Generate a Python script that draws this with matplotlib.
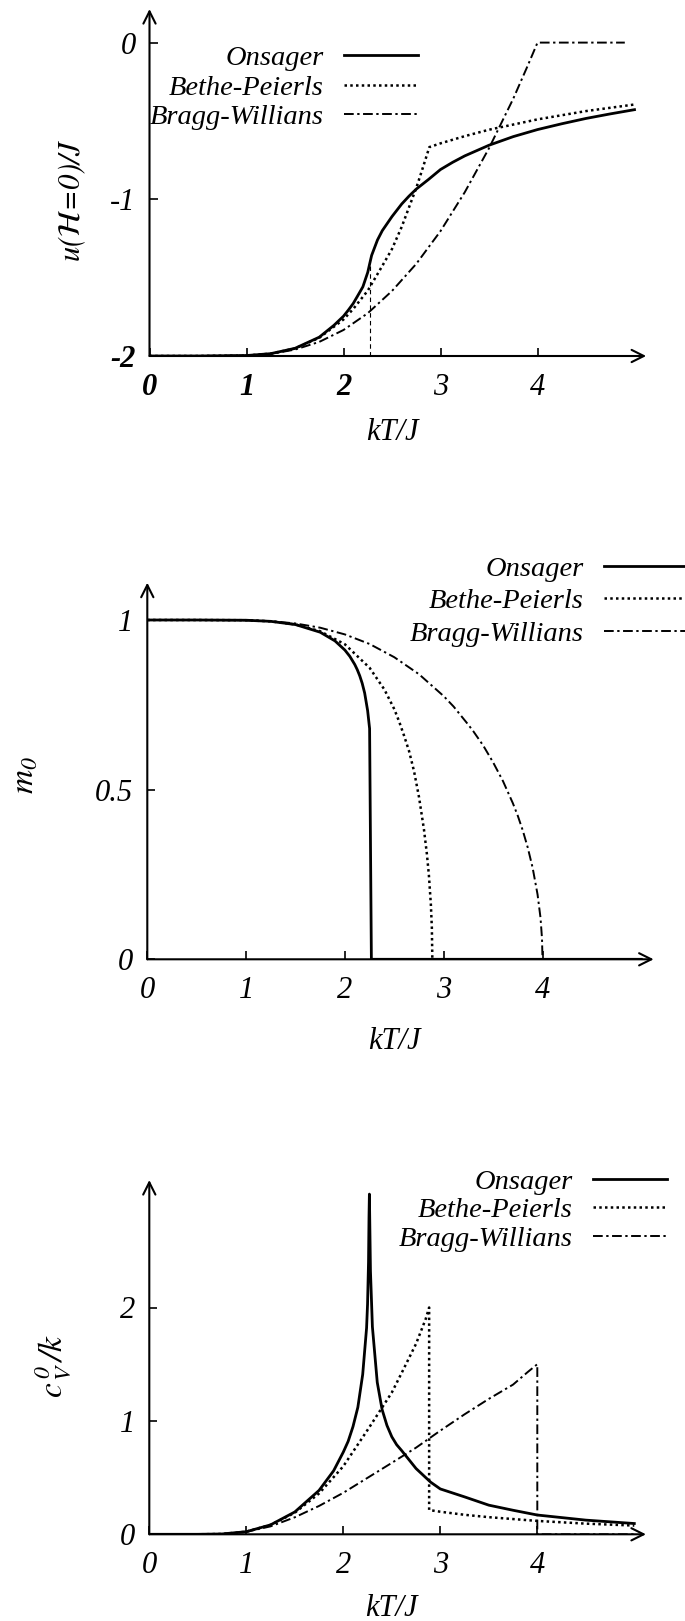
import numpy as np
import matplotlib
matplotlib.use('Agg')
import matplotlib.pyplot as plt
from matplotlib.lines import Line2D

plt.rcParams['font.family'] = ['Liberation Serif', 'DejaVu Serif']
plt.rcParams['font.style'] = 'italic'
plt.rcParams['mathtext.fontset'] = 'stix'

names = ['Onsager', 'Bethe-Peierls', 'Bragg-Willians']
xticks = [0, 1, 2, 3, 4]

# --- energia u(H=0)/J ---
T_u_ons = [0, 0.5, 1.0, 1.25, 1.5, 1.75, 1.9, 2.0, 2.05, 2.1, 2.15, 2.2, 2.25, 2.269, 2.29,
           2.35, 2.4, 2.5, 2.6, 2.675, 2.75, 2.875, 3.0, 3.125, 3.25, 3.5, 3.75, 4.0, 4.25,
           4.5, 4.75, 5.0]
u_ons = [-2, -2, -1.997, -1.985, -1.951, -1.880, -1.805, -1.746, -1.707, -1.665, -1.612,
         -1.558, -1.466, -1.414, -1.358, -1.26, -1.20, -1.11, -1.03, -0.98, -0.935, -0.874,
         -0.81, -0.764, -0.723, -0.655, -0.60, -0.555, -0.518, -0.484, -0.455, -0.428]
T_u_bp = [0, 0.5, 1.0, 1.25, 1.5, 1.75, 2.0, 2.1, 2.25, 2.4, 2.5, 2.6, 2.75, 2.8, 2.85,
          2.885, 3.0, 3.25, 3.5, 4.0, 4.5, 5.0]
u_bp = [-2, -2, -1.997, -1.985, -1.952, -1.884, -1.767, -1.70, -1.583, -1.425, -1.317,
        -1.176, -0.928, -0.833, -0.736, -0.667, -0.643, -0.597, -0.556, -0.490, -0.437,
        -0.395]
T_u_bw = [0, 0.5, 1.0, 1.25, 1.5, 1.75, 2.0, 2.25, 2.5, 2.75, 3.0, 3.25, 3.5, 3.75, 3.9,
          4.0, 4.9]
u_bw = [-2, -2, -1.997, -1.987, -1.959, -1.910, -1.834, -1.727, -1.585, -1.412, -1.203,
        -0.955, -0.674, -0.358, -0.146, 0, 0]
tc_ons = 2.269
u_tc_ons = -1.414

# --- magnetizacion m0 ---
T_m_ons = [0, 0.5, 1.0, 1.25, 1.5, 1.75, 1.9, 2.0, 2.05, 2.1, 2.125, 2.15, 2.175, 2.2,
           2.23, 2.25, 2.268, 5.0]
m_ons = [1, 1, 0.9993, 0.996, 0.9865, 0.964, 0.9383, 0.9113, 0.8928, 0.8688, 0.8537,
         0.8357, 0.8135, 0.7848, 0.733, 0.68, 0, 0]
T_m_bp = [0, 0.5, 1.0, 1.25, 1.5, 1.75, 2.0, 2.25, 2.4, 2.5, 2.55, 2.6, 2.65, 2.7, 2.75,
          2.8, 2.83, 2.85, 2.87, 2.88, 2.885]
m_bp = [1, 1, 0.9993, 0.996, 0.9869, 0.9668, 0.9284, 0.8591, 0.795, 0.7372, 0.70,
        0.6581, 0.613, 0.554, 0.4781, 0.383, 0.310, 0.2483, 0.162, 0.094, 0]
T_m_bw = [0, 0.5, 1.0, 1.25, 1.5, 1.75, 2.0, 2.25, 2.5, 2.75, 3.0, 3.1, 3.25, 3.3, 3.4,
          3.5, 3.6, 3.7, 3.75, 3.8, 3.85, 3.9, 3.95, 3.98, 3.995, 4.0]
m_bw = [1, 1, 0.9993, 0.9967, 0.9898, 0.9773, 0.9575, 0.9293, 0.8903, 0.8402, 0.7756,
        0.745, 0.691, 0.672, 0.63, 0.5805, 0.5252, 0.46, 0.4229, 0.38, 0.33, 0.27, 0.191,
        0.122, 0.061, 0]

# --- calor especifico c_V/k ---
T_c_ons = [0, 0.5, 0.75, 1.0, 1.25, 1.5, 1.75, 1.9, 2.0, 2.05, 2.1, 2.15, 2.2, 2.24, 2.25,
           2.26, 2.265, 2.269, 2.275, 2.28, 2.3, 2.35, 2.4, 2.45, 2.5, 2.55, 2.6, 2.75, 2.9,
           3.0, 3.25, 3.5, 3.75, 4.0, 4.5, 5.0]
c_ons = [0, 0, 0.003, 0.023, 0.083, 0.197, 0.387, 0.56, 0.725, 0.82, 0.95, 1.12, 1.41,
         1.82, 2.03, 2.40, 2.8, 3.0, 2.63, 2.32, 1.83, 1.34, 1.10, 0.96, 0.86, 0.79, 0.74,
         0.58, 0.46, 0.40, 0.33, 0.257, 0.212, 0.17, 0.125, 0.095]
T_c_bp = [0, 0.5, 0.75, 1.0, 1.25, 1.5, 1.75, 2.0, 2.25, 2.5, 2.6, 2.75, 2.85, 2.885,
          2.885, 3.0, 3.25, 3.5, 4.0, 4.5, 5.0]
c_bp = [0, 0, 0.003, 0.023, 0.083, 0.19, 0.36, 0.60, 0.92, 1.25, 1.42, 1.68, 1.90, 2.0,
        0.214, 0.199, 0.172, 0.151, 0.118, 0.094, 0.077]
T_c_bw = [0, 0.5, 0.75, 1.0, 1.25, 1.5, 1.75, 2.0, 2.25, 2.5, 2.75, 3.0, 3.25, 3.5, 3.75,
          3.9, 4.0, 4.0, 5.0]
c_bw = [0, 0, 0.003, 0.022, 0.07, 0.15, 0.25, 0.366, 0.498, 0.63, 0.764, 0.914, 1.058,
        1.194, 1.32, 1.43, 1.5, 0, 0]

W, H = 685, 1621
fig = plt.figure(figsize=(W / 100, H / 100), dpi=100)

sol = dict(color='k', lw=2.0, ls='-')
dot = dict(color='k', lw=1.8, ls=(0, (1, 1.3)))
dd = dict(color='k', lw=1.4, ls=(0, (5, 1.8, 1.2, 1.8)))
FS = 22     # ejes
FL = 20.5   # leyenda


def panel(x0, ux, y0, uy, xmax, ymin, ymax):
    # x0,y0: pixel del origen; ux,uy: pixeles por unidad
    ax = fig.add_axes([x0 / W, (H - y0) / H, xmax * ux / W, (ymax - ymin) * uy / H])
    ax.set_xlim(0, xmax)
    ax.set_ylim(ymin, ymax)
    for s in ax.spines.values():
        s.set_visible(False)
    arr = dict(arrowstyle='->', lw=1.5, color='k', shrinkA=0, shrinkB=0, mutation_scale=22)
    ax.annotate('', xy=(1, 0), xytext=(0, 0), xycoords='axes fraction', arrowprops=arr)
    ax.annotate('', xy=(0, 1), xytext=(0, 0), xycoords='axes fraction', arrowprops=arr)
    ax.tick_params(direction='in', length=6, width=1.2, labelsize=FS)
    ax.tick_params(axis='x', pad=12)
    ax.tick_params(axis='y', pad=10)
    ax.set_xticks(xticks)
    ax.set_xticklabels([str(t) for t in xticks])
    ax.patch.set_visible(False)
    return ax


def leyenda(ax, xr, ytop, hl, sp):
    hs = [Line2D([], [], **sol), Line2D([], [], **dot), Line2D([], [], **dd)]
    ax.legend(hs, names, loc='upper right', bbox_to_anchor=(xr / W, 1 - ytop / H),
              bbox_transform=fig.transFigure, frameon=False, markerfirst=False,
              handlelength=hl, handletextpad=0.7, labelspacing=sp, borderpad=0,
              borderaxespad=0, fontsize=FL)


# panel superior: energia
ax1 = panel(149.5, 97, 356, 156.7, 5.12, -2, 0.214)
ax1.plot(T_u_ons, u_ons, **sol)
ax1.plot(T_u_bp, u_bp, **dot)
ax1.plot(T_u_bw, u_bw, **dd)
ax1.plot([tc_ons, tc_ons], [-2, u_tc_ons], color='k', lw=0.8, ls=(0, (4, 3)))
ax1.set_yticks([-2, -1, 0])
ax1.set_yticklabels(['-2', '-1', '0'])
for lab in ax1.get_xticklabels()[:3] + ax1.get_yticklabels()[:1]:
    lab.set_fontweight('bold')
ax1.set_xlabel('kT/J', fontsize=FS)
ax1.xaxis.set_label_coords(2.5 / 5.12, -62 / (2.214 * 156.7))
ax1.set_ylabel(r'$\mathit{u}(\mathcal{H}\!=\!\mathit{0})/\mathit{J}$', fontsize=FS)
ax1.yaxis.set_label_coords(-62 / (5.12 * 97), (356 - 200) / (2.214 * 156.7))
leyenda(ax1, 418, 45, 2.6, 0.13)

# panel central: magnetizacion
ax2 = panel(147.3, 98.8, 959.3, 339.3, 5.125, 0, 1.11)
ax2.plot(T_m_ons, m_ons, **sol)
ax2.plot(T_m_bp, m_bp, **dot)
ax2.plot(T_m_bw, m_bw, **dd)
ax2.set_yticks([0, 0.5, 1])
ax2.set_yticklabels(['0', '0.5', '1'])
ax2.set_xlabel('kT/J', fontsize=FS)
ax2.xaxis.set_label_coords(2.5 / 5.125, -68 / (1.11 * 339.3))
ax2.set_ylabel(r'$\mathit{m}_{\mathit{0}}$', fontsize=FS + 2)
ax2.yaxis.set_label_coords(-107 / (5.125 * 98.8), (959.3 - 775) / (1.11 * 339.3))
leyenda(ax2, 692, 556, 3.1, 0.225)

# panel inferior: calor especifico
ax3 = panel(149.3, 97, 1534.3, 113.4, 5.12, 0, 3.124)
ax3.plot(T_c_ons, c_ons, **sol)
ax3.plot(T_c_bp, c_bp, **dot)
ax3.plot(T_c_bw, c_bw, **dd)
ax3.set_yticks([0, 1, 2])
ax3.set_yticklabels(['0', '1', '2'])
ax3.set_xlabel('kT/J', fontsize=FS)
ax3.xaxis.set_label_coords(2.5 / 5.12, -60 / (3.124 * 113.4))
ax3.set_ylabel(r'$\mathit{c}^{\,\mathit{0}}_{\,\mathit{V}}\,/\mathit{k}$', fontsize=FS + 2)
ax3.yaxis.set_label_coords(-76 / (5.12 * 97), (1534.3 - 1366) / (3.124 * 113.4))
leyenda(ax3, 667, 1169, 2.6, 0.09)

fig.savefig('out.png', dpi=100)
